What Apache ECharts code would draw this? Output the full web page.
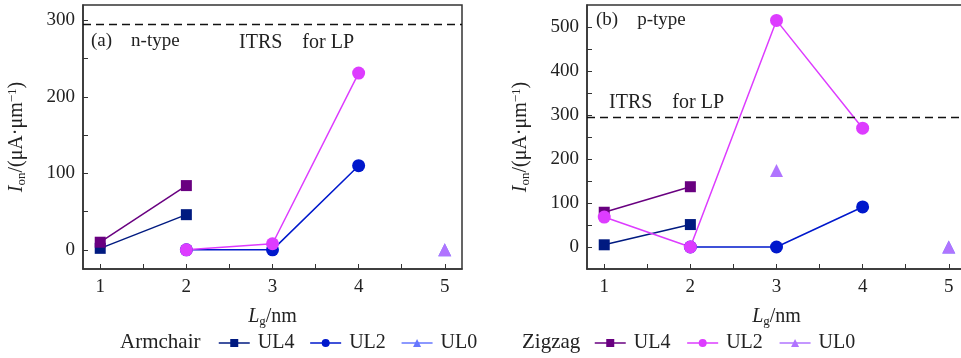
<!DOCTYPE html>
<html>
<head>
<meta charset="utf-8">
<script src="https://cdn.jsdelivr.net/npm/echarts@6/dist/echarts.min.js"></script>
<style>
  html, body { margin: 0; padding: 0; background: #fff; overflow: hidden; }
  #chart { width: 970px; height: 358px; }
</style>
</head>
<body>
<div id="chart"></div>
<script>
// gate length (nm)
const lg = [1, 2, 3, 4, 5];
const itrsLP = 295;

// n-type (a)
const nArmUL4 = [[1, 2], [2, 46]];
const nArmUL2 = [[2, 0], [3, 0], [4, 110]];
const nArmUL0 = [[5, 0]];
const nZigUL4 = [[1, 10], [2, 84]];
const nZigUL2 = [[2, 0], [3, 8], [4, 231]];
const nZigUL0 = [[5, 0]];

// p-type (b)
const pArmUL4 = [[1, 5], [2, 51]];
const pArmUL2 = [[2, 0], [3, 0], [4, 91]];
const pArmUL0 = [[5, 0]];
const pZigUL4 = [[1, 79], [2, 137]];
const pZigUL2 = [[1, 68], [2, 0], [3, 515], [4, 270]];
const pZigUL0 = [[3, 174], [5, 0]];

const leftTicks = [0, 100, 200, 300];
const rightTicks = [0, 100, 200, 300, 400, 500];

const colors = {
  'A-UL4': '#001a80',
  'A-UL2': '#0018cc',
  'A-UL0': '#6677ff',
  'Z-UL4': '#690080',
  'Z-UL2': '#dd3cff',
  'Z-UL0': '#b074ff'
};
const symbols = {
  'A-UL4': ['rect', 11], 'A-UL2': ['circle', 13], 'A-UL0': ['triangle', 13],
  'Z-UL4': ['rect', 11], 'Z-UL2': ['circle', 13], 'Z-UL0': ['triangle', 13]
};
// UL0 points are separate marks, not joined
const joined = { 'A-UL4': true, 'A-UL2': true, 'A-UL0': false, 'Z-UL4': true, 'Z-UL2': true, 'Z-UL0': false };

const font = 'Liberation Serif';
const chart = echarts.init(document.getElementById('chart'));

function mkSeries(name, data, idx) {
  return {
    name: name,
    type: 'line',
    xAxisIndex: idx,
    yAxisIndex: idx,
    data: data,
    symbol: symbols[name][0],
    symbolSize: symbols[name][1],
    itemStyle: { color: colors[name] },
    lineStyle: { color: colors[name], width: 1.5, opacity: joined[name] ? 1 : 0 },
    emphasis: { disabled: true },
    animation: false
  };
}

const nameRich = {
  i: { fontFamily: font, fontStyle: 'italic', fontSize: 20, color: '#222' },
  sub: { fontFamily: font, fontSize: 13, color: '#222', verticalAlign: 'bottom', padding: [9, 0, 0, 0] },
  sup: { fontFamily: font, fontSize: 13, color: '#222', verticalAlign: 'top', padding: [0, 0, 9, 0] },
  n: { fontFamily: font, fontSize: 20, color: '#222' }
};

function xAxisCfg(idx) {
  return {
    gridIndex: idx,
    type: 'value',
    min: 0.8,
    max: 5.2,
    name: '{i|L}{sub|g}{n|/nm}',
    nameLocation: 'middle',
    nameGap: 37,
    nameTextStyle: { rich: nameRich },
    axisLine: { show: true, onZero: false, lineStyle: { color: '#333', width: 1.5 } },
    axisTick: { show: true, inside: true, length: 5, customValues: [1, 1.5, 2, 2.5, 3, 3.5, 4, 4.5, 5], lineStyle: { color: '#333' } },
    axisLabel: { customValues: lg, fontFamily: font, fontSize: 19, color: '#222', margin: 9 },
    splitLine: { show: false }
  };
}

function yAxisCfg(idx, min, max, ticks, minors) {
  return {
    gridIndex: idx,
    type: 'value',
    min: min,
    max: max,
    name: '{i|I}{sub|on}{n|/(μA·μm}{sup|−1}{n|)}',
    nameLocation: 'middle',
    nameRotate: 90,
    nameGap: 55,
    nameTextStyle: { rich: nameRich },
    axisLine: { show: true, onZero: false, lineStyle: { color: '#333', width: 1.5 } },
    axisTick: { show: true, inside: true, length: 5, customValues: minors, lineStyle: { color: '#333' } },
    axisLabel: { customValues: ticks, fontFamily: font, fontSize: 19, color: '#222', margin: 8 },
    splitLine: { show: false }
  };
}

const itrsLine = {
  silent: true,
  symbol: 'none',
  label: { show: false },
  lineStyle: { color: '#111', type: [8, 5], width: 1.4 },
  data: [{ yAxis: itrsLP }]
};

const nSeries = [
  mkSeries('A-UL4', nArmUL4, 0), mkSeries('A-UL2', nArmUL2, 0), mkSeries('A-UL0', nArmUL0, 0),
  mkSeries('Z-UL4', nZigUL4, 0), mkSeries('Z-UL2', nZigUL2, 0), mkSeries('Z-UL0', nZigUL0, 0)
];
nSeries[0].markLine = itrsLine;
const pSeries = [
  mkSeries('A-UL4', pArmUL4, 1), mkSeries('A-UL2', pArmUL2, 1), mkSeries('A-UL0', pArmUL0, 1),
  mkSeries('Z-UL4', pZigUL4, 1), mkSeries('Z-UL2', pZigUL2, 1), mkSeries('Z-UL0', pZigUL0, 1)
];
pSeries[0].markLine = itrsLine;

const legendItem = name => ({ name: name, lineStyle: { opacity: 1, width: 1.5, color: colors[name] } });

const legendBase = {
  orient: 'horizontal',
  top: 328,
  itemWidth: 31,
  itemHeight: 10,
  itemGap: 15,
  selectedMode: false,
  formatter: name => name.slice(2),
  textStyle: { fontFamily: font, fontSize: 20, color: '#222', padding: [0, 0, 0, 3] }
};

const textStyle = (size) => ({ fontFamily: font, fontSize: size, fill: '#222' });

const option = {
  backgroundColor: '#fff',
  animation: false,
  grid: [
    { left: 83, top: 5, width: 379, height: 264, show: true, borderColor: '#333', borderWidth: 1.5, backgroundColor: 'transparent' },
    { left: 587, top: 5, width: 379, height: 264, show: true, borderColor: '#333', borderWidth: 1.5, backgroundColor: 'transparent' }
  ],
  xAxis: [xAxisCfg(0), xAxisCfg(1)],
  yAxis: [
    yAxisCfg(0, -25, 320, leftTicks, [0, 50, 100, 150, 200, 250, 300]),
    yAxisCfg(1, -50, 550, rightTicks, [0, 50, 100, 150, 200, 250, 300, 350, 400, 450, 500])
  ],
  legend: [
    Object.assign({}, legendBase, { left: 213, data: ['A-UL4', 'A-UL2', 'A-UL0'].map(legendItem) }),
    Object.assign({}, legendBase, { left: 589, itemGap: 16, data: ['Z-UL4', 'Z-UL2', 'Z-UL0'].map(legendItem) })
  ],
  graphic: [
    { type: 'text', left: 91, top: 32, style: Object.assign({ text: '(a)    n-type' }, textStyle(19)) },
    { type: 'text', left: 239, top: 33, style: Object.assign({ text: 'ITRS    for LP' }, textStyle(20)) },
    { type: 'text', left: 596, top: 11, style: Object.assign({ text: '(b)    p-type' }, textStyle(19)) },
    { type: 'text', left: 609, top: 93, style: Object.assign({ text: 'ITRS    for LP' }, textStyle(20)) },
    { type: 'text', left: 120, top: 332, style: Object.assign({ text: 'Armchair' }, textStyle(21)) },
    { type: 'text', left: 522, top: 332, style: Object.assign({ text: 'Zigzag' }, textStyle(21)) }
  ],
  series: nSeries.concat(pSeries)
};

chart.setOption(option);
</script>
</body>
</html>
